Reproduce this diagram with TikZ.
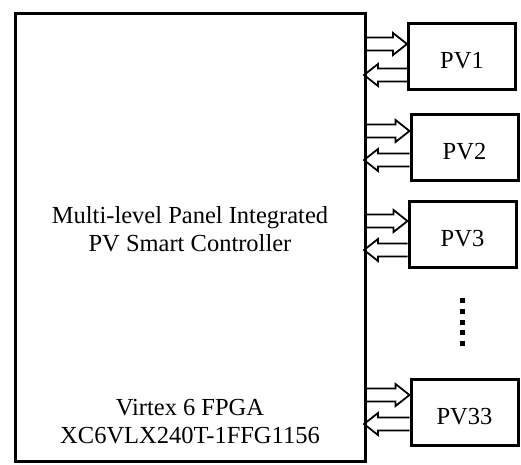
\documentclass[tikz,border=0pt]{standalone}
\usepackage{fontspec}
\setmainfont{Liberation Serif}
\usetikzlibrary{calc}

\begin{document}
\begin{tikzpicture}[
    x=1pt, y=-1pt,
    font=\fontsize{24.5}{28}\selectfont,
    fpga/.style={
        draw,
        line width=3pt,
        minimum width=350pt,
        minimum height=448pt
    },
    pvbox/.style={
        draw,
        line width=3pt,
        minimum width=107pt,
        minimum height=66pt,
        text height=24pt,
        text depth=0pt
    },
    blockarrow/.style={
        draw,
        line width=1.8pt,
        line join=miter,
        to path={
            let \p1=(\tikztostart), \p2=(\tikztotarget),
                \n1={ifthenelse(\x2>\x1,14,-14)} in
            (\x1,\y1+6.5pt) -- (\x2-\n1,\y1+6.5pt) -- (\x2-\n1,\y1+11pt)
            -- (\x2,\y2)
            -- (\x2-\n1,\y1-11pt) -- (\x2-\n1,\y1-6.5pt) -- (\x1,\y1-6.5pt)
        }
    }
]
\useasboundingbox (0,0) rectangle (521,464);

% main controller box
\node[fpga] (main) at (190.5,237) {};
\node[align=center] (title) at (190,229) {Multi-level Panel Integrated\\PV Smart Controller};
\node[align=center] (chip) at (190,422) {Virtex 6 FPGA\\XC6VLX240T-1FFG1156};

% PV panels and links
\foreach \nm/\txt/\cx/\cy/\ra/\la in {pvA/PV1/462/56/44/75,
                                      pvB/PV2/464.5/147.5/131/160,
                                      pvC/PV3/462.5/234.5/221/250,
                                      pvD/PV33/464.5/412.5/395/424} {
    \node[pvbox] (\nm) at (\cx,\cy) {\txt};
    \coordinate (\nm r) at (\nm.west |- 0,\ra);
    \coordinate (\nm l) at (\nm.west |- 0,\la);
    \draw[blockarrow] (main.east |- \nm r) to (\nm r);
    \draw[blockarrow] (\nm l) to ([xshift=-3pt]main.east |- \nm l);
}

% vertical ellipsis
\foreach \i in {0,...,4}
    \fill ($(pvC.south)+(-2.5,29+10.8*\i)$) rectangle ++(5,5);

\end{tikzpicture}
\end{document}
